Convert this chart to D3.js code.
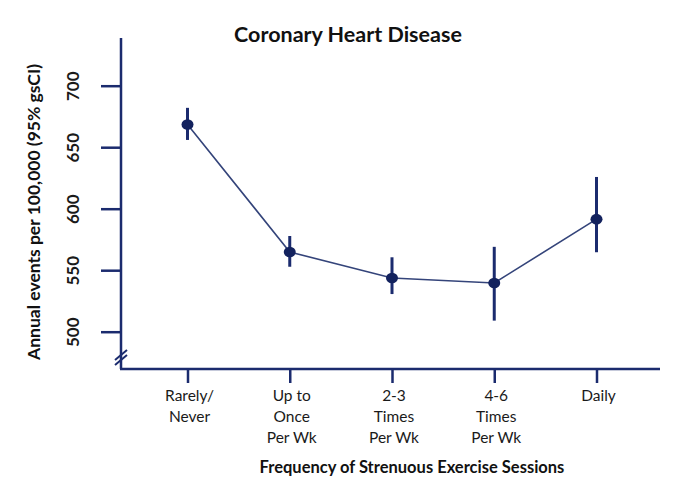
<!DOCTYPE html>
<html>
<head>
<meta charset="utf-8">
<script src="https://cdn.jsdelivr.net/npm/d3@7"></script>
<style>
  html, body { margin: 0; padding: 0; background: #fff; }
  svg { display: block; }
  text { font-family: Lato, "Open Sans", sans-serif; fill: #111; }
</style>
</head>
<body>
<svg id="chart" width="677" height="501"></svg>
<script>
const categories = [
  ["Rarely/", "Never"],
  ["Up to", "Once", "Per Wk"],
  ["2-3", "Times", "Per Wk"],
  ["4-6", "Times", "Per Wk"],
  ["Daily"]
];
const values = [668.5, 564.8, 543.7, 539.6, 591.5];
const lower  = [655.9, 552.8, 530.6, 509.0, 564.6];
const upper  = [682.0, 577.8, 560.5, 569.0, 625.8];
const yTicks = [500, 550, 600, 650, 700];
const title = "Coronary Heart Disease";
const yTitle = "Annual events per 100,000 (95% gsCI)";
const xTitle = "Frequency of Strenuous Exercise Sessions";

const navy = "#1b2b6e";
const svg = d3.select("#chart");

const keys = categories.map((c, i) => i);
const x = d3.scalePoint().domain(keys).range([187.5, 596.5]);
const y = d3.scaleLinear().domain([500, 700]).range([331.7, 85.7]);

const axisX = 121, axisTop = 38, axisBottom = 369, axisRight = 660;

// Title
svg.append("text").attr("x", 348).attr("y", 42).attr("text-anchor", "middle")
  .style("font-size", "21.5px").style("font-weight", "bold").text(title);

// Y axis
const yAxis = svg.append("g").attr("transform", `translate(${axisX},0)`)
  .call(d3.axisLeft(y).tickValues(yTicks).tickSize(20).tickFormat(d3.format("d")));
yAxis.select(".domain").remove();
yAxis.selectAll(".tick line").attr("stroke", navy).attr("stroke-width", 2.5);
yAxis.selectAll(".tick text")
  .attr("x", 0).attr("y", 0).attr("dy", null)
  .attr("transform", "translate(-46,0) rotate(-90)")
  .attr("text-anchor", "middle").attr("dominant-baseline", "middle")
  .style("font-size", "17px").style("font-weight", "bold").style("fill", "#1a1a1a")
  .style("font-family", "Lato, 'Open Sans', sans-serif");

svg.append("line").attr("x1", axisX).attr("x2", axisX).attr("y1", axisTop).attr("y2", axisBottom)
  .attr("stroke", navy).attr("stroke-width", 2.5);
// axis break marks
[0, 5].forEach(off => {
  svg.append("line").attr("x1", axisX - 6).attr("y1", 360 + off).attr("x2", axisX + 6).attr("y2", 350 + off)
    .attr("stroke", navy).attr("stroke-width", 2);
});

// X axis
svg.append("line").attr("x1", axisX - 1).attr("x2", axisRight).attr("y1", axisBottom).attr("y2", axisBottom)
  .attr("stroke", navy).attr("stroke-width", 2.5);
const xAxis = svg.append("g").attr("transform", `translate(0,${axisBottom})`)
  .call(d3.axisBottom(x).tickSize(14).tickFormat(""));
xAxis.select(".domain").remove();
xAxis.selectAll(".tick line").attr("stroke", navy).attr("stroke-width", 2.5);

const labels = svg.append("g");
categories.forEach((lines, i) => {
  const t = labels.append("text").attr("text-anchor", "middle")
    .attr("x", x(i) + 2).attr("y", 401).style("font-size", "15.5px").style("fill", "#1a1a1a");
  lines.forEach((ln, j) => {
    t.append("tspan").attr("x", x(i) + 2).attr("dy", j === 0 ? 0 : 21).text(ln);
  });
});

// Axis titles
svg.append("text").attr("transform", "translate(36,212) rotate(-90)")
  .attr("text-anchor", "middle").attr("dominant-baseline", "middle")
  .style("font-size", "17.5px").style("font-weight", "bold").text(yTitle);
svg.append("text").attr("x", 412).attr("y", 473).attr("text-anchor", "middle")
  .style("font-size", "16.5px").style("font-weight", "bold").text(xTitle);

// Connecting line
const line = d3.line().x((d, i) => x(i)).y(d => y(d));
svg.append("path").datum(values).attr("d", line)
  .attr("fill", "none").attr("stroke", "#34447a").attr("stroke-width", 1.6);

// Error bars
svg.append("g").selectAll("line").data(values).join("line")
  .attr("x1", (d, i) => x(i)).attr("x2", (d, i) => x(i))
  .attr("y1", (d, i) => y(upper[i])).attr("y2", (d, i) => y(lower[i]))
  .attr("stroke", navy).attr("stroke-width", 3);

// Points
svg.append("g").selectAll("ellipse").data(values).join("ellipse")
  .attr("cx", (d, i) => x(i)).attr("cy", d => y(d))
  .attr("rx", 6).attr("ry", 5.3).attr("fill", "#13225e");
</script>
</body>
</html>
